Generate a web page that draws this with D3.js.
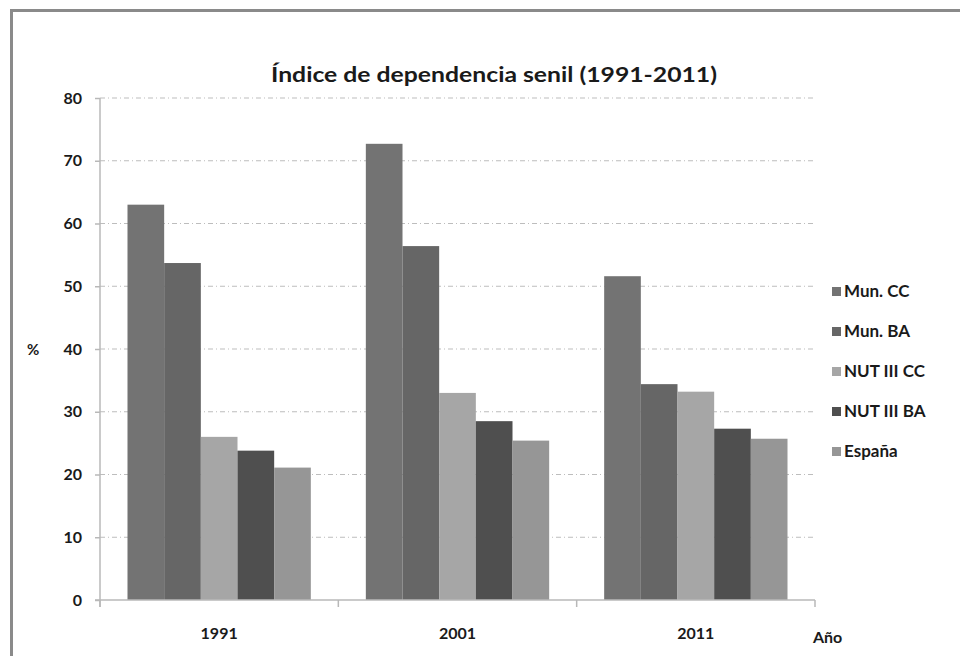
<!DOCTYPE html>
<meta charset="utf-8">
<style>
body { margin: 0; background: #fff; }
svg text { font-family: Lato, "Open Sans", sans-serif; font-weight: bold; fill: #1a1a1a; }
.grid line { stroke: #bdbdbd; stroke-dasharray: 5,3,1,3; }
.axis path, .axis line { stroke: #b8b8b8; stroke-width: 1.5px; }
</style>
<svg width="960" height="656"></svg>
<script src="https://d3js.org/d3.v7.min.js"></script>
<script>
var years = ["1991", "2001", "2011"];
var series = ["Mun. CC", "Mun. BA", "NUT III CC", "NUT III BA", "España"];
var colors = ["#737373", "#666666", "#a6a6a6", "#4f4f4f", "#969696"];
var munCC = [63.0, 72.7, 51.6];
var munBA = [53.7, 56.4, 34.4];
var nutCC = [26.0, 33.0, 33.2];
var nutBA = [23.8, 28.5, 27.3];
var espana = [21.1, 25.4, 25.7];
var yTicks = [0, 10, 20, 30, 40, 50, 60, 70, 80];

var values = [munCC, munBA, nutCC, nutBA, espana];

var svg = d3.select("svg");

// outer frame
svg.append("rect")
    .attr("x", 11.5).attr("y", 10.5)
    .attr("width", 1000).attr("height", 800)
    .attr("fill", "none")
    .attr("stroke", "#8a8a8a")
    .attr("stroke-width", 3);

var x0 = d3.scaleBand().domain(years).range([100, 815]);
var x1 = d3.scaleBand().domain(series).range([0, x0.bandwidth()]).paddingOuter(0.75);
var y = d3.scaleLinear().domain([0, 80]).range([600, 98]);

svg.append("text")
    .attr("x", 494).attr("y", 82)
    .attr("text-anchor", "middle")
    .attr("textLength", 446)
    .attr("lengthAdjust", "spacingAndGlyphs")
    .style("font-size", "21px")
    .text("Índice de dependencia senil (1991-2011)");

// gridlines
svg.append("g").attr("class", "grid")
    .selectAll("line")
    .data(yTicks.slice(1))
    .enter().append("line")
    .attr("x1", 100).attr("x2", 815)
    .attr("y1", function(d) { return y(d); })
    .attr("y2", function(d) { return y(d); });

// bars
var groups = svg.append("g").selectAll("g")
    .data(years)
    .enter().append("g")
    .attr("transform", function(d) { return "translate(" + x0(d) + ",0)"; });

groups.selectAll("rect")
    .data(function(d, i) { return series.map(function(s, j) { return { s: s, j: j, v: values[j][i] }; }); })
    .enter().append("rect")
    .attr("x", function(d) { return x1(d.s); })
    .attr("width", x1.bandwidth())
    .attr("y", function(d) { return y(d.v); })
    .attr("height", function(d) { return y(0) - y(d.v); })
    .attr("fill", function(d) { return colors[d.j]; });

// y axis
var yAxis = svg.append("g").attr("class", "axis")
    .attr("transform", "translate(100,0)")
    .call(d3.axisLeft(y).tickValues(yTicks).tickSize(5).tickPadding(13).tickSizeOuter(0));
yAxis.select(".domain").attr("d", "M0,98V607");
yAxis.selectAll("text").style("font-size", "16px").attr("fill", "#1a1a1a");

// x axis
var xAxis = svg.append("g").attr("class", "axis")
    .attr("transform", "translate(0,600)");
xAxis.append("line").attr("x1", 95).attr("x2", 815).attr("y1", 0).attr("y2", 0);
xAxis.selectAll(".tk")
    .data(years.map(function(d) { return x0(d); }).concat([815]))
    .enter().append("line")
    .attr("x1", function(d) { return d; }).attr("x2", function(d) { return d; })
    .attr("y1", 0).attr("y2", 7);
xAxis.selectAll(".lbl")
    .data(years)
    .enter().append("text")
    .attr("x", function(d) { return x0(d) + x0.bandwidth() / 2; })
    .attr("y", 39)
    .attr("text-anchor", "middle")
    .style("font-size", "16px")
    .text(function(d) { return d; });

svg.append("text").attr("x", 813).attr("y", 643).style("font-size", "16px").text("Año");
svg.append("text").attr("x", 27).attr("y", 355).style("font-size", "15px").text("%");

// legend
var legend = svg.append("g").selectAll("g")
    .data(series)
    .enter().append("g")
    .attr("transform", function(d, i) { return "translate(832," + (292 + i * 40) + ")"; });
legend.append("rect")
    .attr("x", 0).attr("y", -5)
    .attr("width", 9).attr("height", 9)
    .attr("fill", function(d, i) { return colors[i]; });
legend.append("text")
    .attr("x", 12).attr("y", 5)
    .style("font-size", "17px")
    .text(function(d) { return d; });
</script>
